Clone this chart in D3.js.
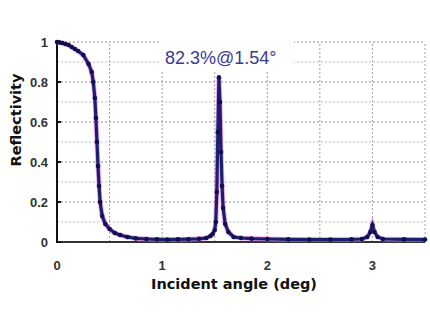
<!DOCTYPE html>
<html><head><meta charset="utf-8">
<script src="https://cdn.jsdelivr.net/npm/d3@7"></script>
<style>body{margin:0;background:#fff}svg{display:block}</style>
</head><body><svg id="c" width="430" height="332"></svg>
<script>
const angles = [0.00,0.02,0.05,0.08,0.11,0.14,0.17,0.20,0.25,0.30,0.33,0.345,0.36,0.37,0.38,0.39,0.40,0.41,0.43,0.46,0.50,0.55,0.60,0.67,0.75,0.85,0.95,1.05,1.15,1.25,1.35,1.42,1.46,1.48,1.50,1.51,1.52,1.53,1.54,1.55,1.56,1.57,1.58,1.60,1.63,1.68,1.75,1.85,2.00,2.20,2.40,2.60,2.80,2.90,2.95,2.98,3.00,3.02,3.05,3.10,3.30,3.50];
const reflectivity = [1.00,0.998,0.995,0.99,0.985,0.975,0.965,0.955,0.935,0.89,0.85,0.80,0.72,0.62,0.50,0.38,0.28,0.20,0.13,0.09,0.065,0.045,0.035,0.025,0.018,0.015,0.013,0.012,0.013,0.014,0.016,0.02,0.03,0.04,0.06,0.10,0.25,0.55,0.823,0.70,0.45,0.28,0.17,0.09,0.05,0.025,0.02,0.017,0.015,0.013,0.012,0.012,0.013,0.015,0.025,0.05,0.085,0.05,0.025,0.015,0.013,0.012];
const xTicks = [0,1,2,3];
const yTicks = [0,0.2,0.4,0.6,0.8,1];
const xGrid = [0.5,1,1.5,2,2.5,3,3.5];
const yGrid = [0.1,0.2,0.3,0.4,0.5,0.6,0.7,0.8,0.9,1.0];
const annotation = "82.3%@1.54°";

const svg = d3.select("#c");
const x = d3.scaleLinear().domain([0,3.5]).range([57,425]);
const y = d3.scaleLinear().domain([0,1]).range([242,42]);

// grid
svg.append("g").selectAll("line").data(yGrid).join("line")
  .attr("x1",x(0)).attr("x2",x(3.5)).attr("y1",d=>y(d)).attr("y2",d=>y(d))
  .attr("stroke",d=>Math.round(d*10)%2===0?"#8a8a8a":"#b8b8d0").attr("stroke-width",1)
  .attr("stroke-dasharray","2,2");
svg.append("g").selectAll("line").data(xGrid).join("line")
  .attr("x1",d=>x(d)).attr("x2",d=>x(d)).attr("y1",y(0)).attr("y2",y(1))
  .attr("stroke","#a0a0a0").attr("stroke-width",1).attr("stroke-dasharray","2,2");

// annotation background
svg.append("rect").attr("x",160).attr("y",38).attr("width",134).attr("height",32).attr("fill","#fff");
svg.append("text").attr("x",165).attr("y",64).text(annotation)
  .attr("font-family","Liberation Sans, Arial, sans-serif").attr("font-size",18).attr("fill","#3b3b8f");

// axes
svg.append("line").attr("x1",x(0)).attr("x2",x(0)).attr("y1",y(0)+1).attr("y2",y(1))
  .attr("stroke","#111").attr("stroke-width",2);
svg.append("line").attr("x1",x(0)).attr("x2",x(3.5)).attr("y1",y(0)).attr("y2",y(0))
  .attr("stroke","#333").attr("stroke-width",2);
svg.append("g").selectAll("line").data(yTicks).join("line")
  .attr("x1",x(0)).attr("x2",x(0)+4).attr("y1",d=>y(d)).attr("y2",d=>y(d))
  .attr("stroke","#111").attr("stroke-width",2);

// tick labels
svg.append("g").selectAll("text").data(yTicks).join("text")
  .attr("x",48).attr("y",d=>y(d)+5).attr("text-anchor","end").text(d=>d3.format("~g")(d))
  .attr("font-family","Liberation Sans, Arial, sans-serif").attr("font-size",13).attr("font-weight","bold").attr("fill","#333");
svg.append("g").selectAll("text").data(xTicks).join("text")
  .attr("x",d=>x(d)).attr("y",270).attr("text-anchor","middle").text(d=>d)
  .attr("font-family","Liberation Sans, Arial, sans-serif").attr("font-size",13).attr("font-weight","bold").attr("fill","#333");

// titles
svg.append("text").attr("x",234).attr("y",289).attr("text-anchor","middle").text("Incident angle (deg)")
  .attr("font-family","DejaVu Sans, sans-serif").attr("font-size",14.5).attr("font-weight","bold").attr("fill","#111");
svg.append("text").attr("transform","translate(21,120) rotate(-90)").attr("text-anchor","middle").text("Reflectivity")
  .attr("font-family","DejaVu Sans, sans-serif").attr("font-size",14.5).attr("font-weight","bold").attr("fill","#111");

// data
const pts = angles.map((a,i)=>[a,reflectivity[i]]);
const line = d3.line().x(d=>x(d[0])).y(d=>y(d[1]));
svg.append("path").datum(pts).attr("d",line).attr("fill","none").attr("stroke","#e070e0").attr("stroke-width",5).attr("opacity",0.6);
svg.append("path").datum(pts).attr("d",line).attr("fill","none").attr("stroke","#1e1e6e").attr("stroke-width",3.2);
svg.append("g").selectAll("circle").data(pts).join("circle")
  .attr("cx",d=>x(d[0])).attr("cy",d=>y(d[1])).attr("r",2.3).attr("fill","#10104f");
</script></body></html>
